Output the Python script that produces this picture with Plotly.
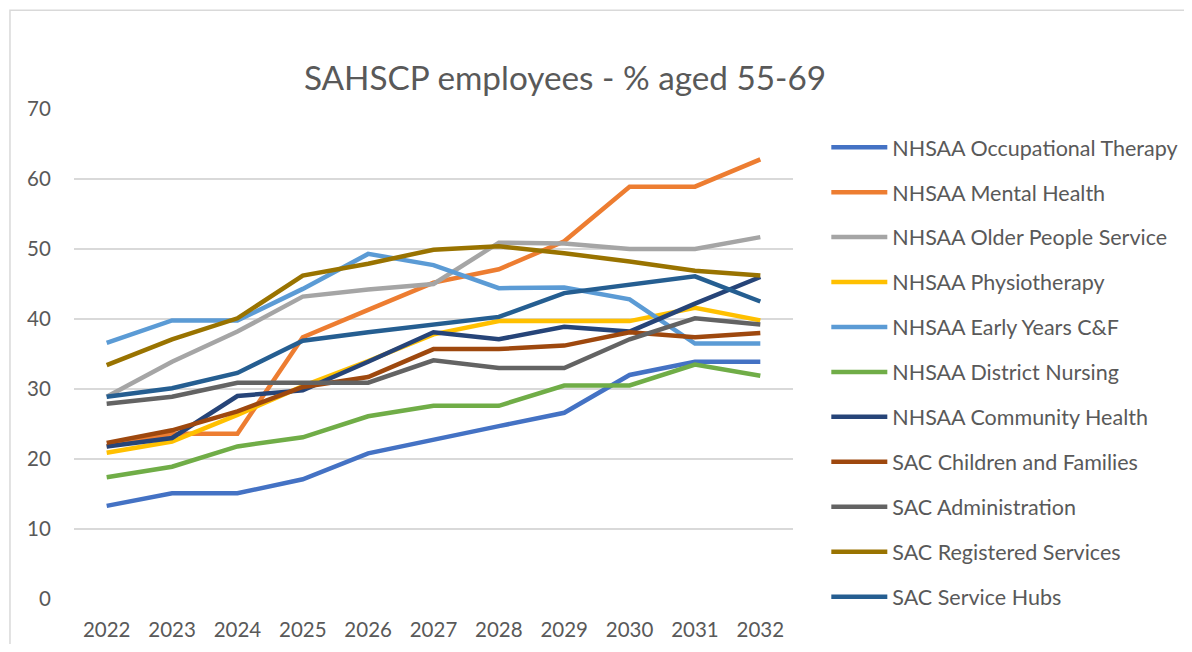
import plotly.graph_objects as go

years = ["2022", "2023", "2024", "2025", "2026", "2027", "2028", "2029", "2030", "2031", "2032"]

occupational_therapy = [13.3, 15.1, 15.1, 17.1, 20.8, 22.8, 24.7, 26.6, 32.0, 33.9, 33.9]
mental_health = [21.8, 23.6, 23.6, 37.4, 41.3, 45.2, 47.1, 51.1, 58.9, 58.9, 62.8]
older_people = [28.9, 33.9, 38.2, 43.2, 44.2, 45.0, 50.9, 50.8, 50.0, 50.0, 51.7]
physiotherapy = [20.9, 22.5, 26.3, 30.4, 34.0, 37.8, 39.7, 39.7, 39.7, 41.6, 39.8]
early_years = [36.6, 39.8, 39.8, 44.3, 49.3, 47.7, 44.4, 44.5, 42.8, 36.5, 36.5]
district_nursing = [17.4, 18.9, 21.8, 23.1, 26.1, 27.6, 27.6, 30.5, 30.5, 33.5, 31.9]
community_health = [21.8, 23.0, 29.0, 29.8, 33.9, 38.1, 37.1, 38.9, 38.2, 42.2, 46.0]
children_families = [22.3, 24.1, 26.8, 30.3, 31.7, 35.7, 35.7, 36.2, 38.1, 37.4, 38.0]
administration = [27.9, 28.9, 30.9, 30.9, 30.9, 34.1, 33.0, 33.0, 37.1, 40.1, 39.2]
registered_services = [33.4, 37.1, 40.1, 46.2, 47.9, 49.9, 50.4, 49.4, 48.2, 46.9, 46.2]
service_hubs = [28.9, 30.1, 32.3, 36.9, 38.1, 39.2, 40.3, 43.7, 44.9, 46.1, 42.5]

series_names = [
    "NHSAA Occupational Therapy", "NHSAA Mental Health", "NHSAA Older People Service",
    "NHSAA Physiotherapy", "NHSAA Early Years C&F", "NHSAA District Nursing",
    "NHSAA Community Health", "SAC Children and Families", "SAC Administration",
    "SAC Registered Services", "SAC Service Hubs",
]
series_values = [
    occupational_therapy, mental_health, older_people, physiotherapy, early_years,
    district_nursing, community_health, children_families, administration,
    registered_services, service_hubs,
]
series_colors = [
    "#4472C4", "#ED7D31", "#A5A5A5", "#FFC000", "#5B9BD5", "#70AD47",
    "#264478", "#9E480E", "#636363", "#997300", "#255E91",
]

FONT = "Lato, 'Open Sans', 'DejaVu Sans', sans-serif"
TXT = "#595959"

fig = go.Figure()
for i, (name, vals, col) in enumerate(zip(series_names, series_values, series_colors)):
    fig.add_trace(go.Scatter(
        x=years, y=vals, name=name, mode="lines",
        line=dict(color=col, width=4.5),
        legendgroup=f"g{i}",
    ))

# page body has an 8px margin; figure coordinates = reference pixels - 8
OFF = 8
W, H = 1176, 636
L = 74 - OFF
T = 109.3 - OFF
plot_right = 792.7 - OFF
plot_bottom = 599.3 - OFF
R = W - plot_right
B = H - plot_bottom
pw = plot_right - L
ph = plot_bottom - T

fig.update_layout(
    width=W, height=H,
    margin=dict(l=L, r=R, t=T, b=B, pad=0, autoexpand=False),
    paper_bgcolor="white", plot_bgcolor="white",
    font=dict(family=FONT, color=TXT, size=20),
    title=dict(
        text="SAHSCP employees - % aged 55-69",
        x=(565 - OFF) / W, xanchor="center", xref="container",
        y=1 - (78 - OFF) / H, yanchor="middle", yref="container",
        font=dict(family=FONT, size=33.3, color=TXT),
    ),
    xaxis=dict(
        type="category", range=[-0.5, 10.5],
        showgrid=False, zeroline=False, showline=False,
        ticks="outside", ticklen=12, tickcolor="rgba(0,0,0,0)",
        tickfont=dict(size=20.5, color=TXT),
    ),
    yaxis=dict(
        range=[0, 70], dtick=10,
        showgrid=True, gridcolor="#D9D9D9", gridwidth=1.5,
        zeroline=False, showline=False,
        ticks="outside", ticklen=18, tickcolor="rgba(0,0,0,0)",
        tickfont=dict(size=20.5, color=TXT),
    ),
    legend=dict(
        x=(826 - OFF - L) / pw, xanchor="left",
        y=(plot_bottom - (127 - OFF)) / ph, yanchor="top",
        font=dict(size=21.5, color=TXT),
        tracegroupgap=14,
        itemwidth=56,
        maxheight=640,
        bgcolor="rgba(0,0,0,0)",
    ),
    shapes=[dict(
        type="rect", xref="paper", yref="paper",
        x0=(10 - OFF - L) / pw, x1=2.0, y0=-1.0, y1=(plot_bottom - (10.5 - OFF)) / ph,
        line=dict(color="#D9D9D9", width=1.5), fillcolor="rgba(0,0,0,0)",
        layer="below",
    )],
)

fig.write_html("out.html")
